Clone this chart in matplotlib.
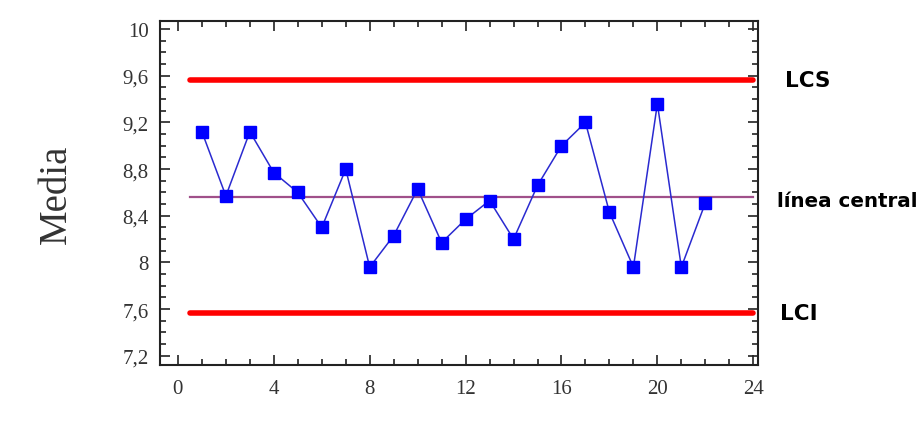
import matplotlib
matplotlib.use('Agg')
import matplotlib.pyplot as plt
from matplotlib.ticker import MultipleLocator, FuncFormatter

# data
muestra = list(range(1, 23))
media = [9.12, 8.57, 9.12, 8.77, 8.60, 8.30, 8.80, 7.96, 8.23, 8.63, 8.17,
         8.37, 8.53, 8.20, 8.66, 9.00, 9.20, 8.43, 7.96, 9.36, 7.96, 8.51]
lcs = 9.56
lc = 8.565
lci = 7.57
lim_x = [0.5, 24]

fig = plt.figure(figsize=(9.23, 4.39), dpi=100)
ax = fig.add_axes([0.1733, 0.166, 0.648, 0.784])

ax.plot(lim_x, [lcs, lcs], color='#ff0000', linewidth=4, solid_capstyle='round', zorder=2)
ax.plot(lim_x, [lci, lci], color='#ff0000', linewidth=4, solid_capstyle='round', zorder=2)
ax.plot(lim_x, [lc, lc], color='#a0508a', linewidth=1.6, zorder=2)
ax.plot(muestra, media, color='#2a2ad0', linewidth=1.1, marker='s', markersize=8,
        markerfacecolor='#0000ff', markeredgecolor='#0000ff', zorder=3)

ax.set_xlim(-0.75, 24.2)
ax.set_ylim(7.12, 10.07)
ax.xaxis.set_major_locator(MultipleLocator(4))
ax.xaxis.set_minor_locator(MultipleLocator(1))
ax.yaxis.set_minor_locator(MultipleLocator(0.1))
ax.set_yticks([7.2, 7.6, 8.0, 8.4, 8.8, 9.2, 9.6, 10.0])

coma = FuncFormatter(lambda v, p: ('%g' % round(v, 2)).replace('.', ','))
ax.yaxis.set_major_formatter(coma)

ax.tick_params(which='both', direction='in', top=True, right=True, width=1.2, color='#222222')
ax.tick_params(which='major', length=7)
ax.tick_params(which='minor', length=4)
ax.tick_params(axis='y', pad=8)
ax.tick_params(axis='x', pad=10)
for lab in ax.get_xticklabels() + ax.get_yticklabels():
    lab.set_fontfamily('Liberation Serif')
    lab.set_fontsize(15)
    lab.set_color('#333333')
for s in ax.spines.values():
    s.set_linewidth(1.5)
    s.set_color('#222222')

ax.set_ylabel('Media', fontfamily='Liberation Serif', fontsize=28, color='#333333', labelpad=34)

ax.text(1.045, lcs, 'LCS', transform=ax.get_yaxis_transform(), fontfamily='DejaVu Sans',
        fontweight='heavy', fontsize=15.5, va='center', ha='left')
ax.text(1.031, lc - 0.03, 'línea central', transform=ax.get_yaxis_transform(),
        fontfamily='DejaVu Sans', fontweight='heavy', fontsize=14.3, va='center', ha='left')
ax.text(1.037, lci, 'LCI', transform=ax.get_yaxis_transform(), fontfamily='DejaVu Sans',
        fontweight='heavy', fontsize=15.5, va='center', ha='left')

fig.savefig('out.png', dpi=100)
